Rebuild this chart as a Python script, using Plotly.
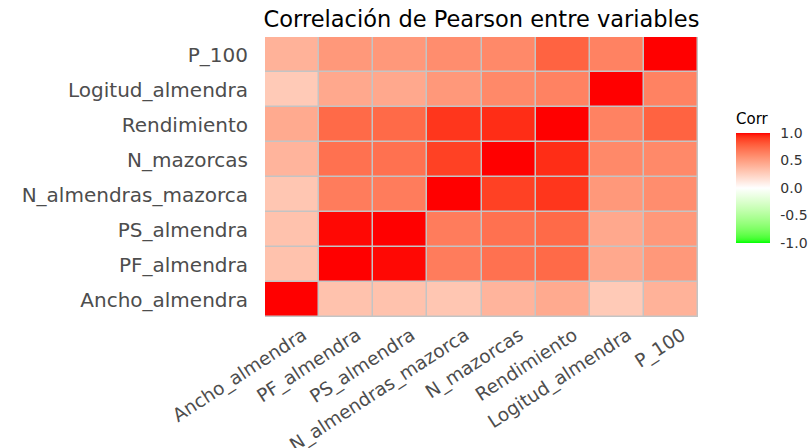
import plotly.graph_objects as go

variables = ["Ancho_almendra", "PF_almendra", "PS_almendra", "N_almendras_mazorca",
             "N_mazorcas", "Rendimiento", "Logitud_almendra", "P_100"]

# correlation rows (same order as variables)
r_ancho = [1.00, 0.32, 0.32, 0.30, 0.39, 0.44, 0.28, 0.40]
r_pf    = [0.32, 1.00, 0.99, 0.66, 0.71, 0.74, 0.45, 0.53]
r_ps    = [0.32, 0.99, 1.00, 0.66, 0.71, 0.74, 0.45, 0.53]
r_nam   = [0.30, 0.66, 0.66, 1.00, 0.89, 0.92, 0.53, 0.58]
r_nm    = [0.39, 0.71, 0.71, 0.89, 1.00, 0.94, 0.60, 0.60]
r_rend  = [0.44, 0.74, 0.74, 0.92, 0.94, 1.00, 0.63, 0.77]
r_log   = [0.28, 0.45, 0.45, 0.53, 0.60, 0.63, 1.00, 0.63]
r_p100  = [0.40, 0.53, 0.53, 0.58, 0.60, 0.77, 0.63, 1.00]

corr = [r_ancho, r_pf, r_ps, r_nam, r_nm, r_rend, r_log, r_p100]

colorbar_ticks = [-1.0, -0.5, 0.0, 0.5, 1.0]
colorbar_ticktext = ["-1.0", "-0.5", "0.0", "0.5", "1.0"]


# --- colour scale: Lab interpolation (like ggplot2 gradient2) ---
def srgb_to_lin(c):
    c = c / 255.0
    return c / 12.92 if c <= 0.04045 else ((c + 0.055) / 1.055) ** 2.4

def lin_to_srgb(c):
    c = min(max(c, 0.0), 1.0)
    v = 12.92 * c if c <= 0.0031308 else 1.055 * c ** (1 / 2.4) - 0.055
    return int(round(min(max(v, 0), 1) * 255))

Xn, Yn, Zn = 0.95047, 1.0, 1.08883

def rgb_to_lab(rgb):
    r, g, b = [srgb_to_lin(v) for v in rgb]
    X = 0.4124 * r + 0.3576 * g + 0.1805 * b
    Y = 0.2126 * r + 0.7152 * g + 0.0722 * b
    Z = 0.0193 * r + 0.1192 * g + 0.9505 * b
    def f(t):
        return t ** (1 / 3) if t > 0.008856 else 7.787 * t + 16 / 116
    fx, fy, fz = f(X / Xn), f(Y / Yn), f(Z / Zn)
    return (116 * fy - 16, 500 * (fx - fy), 200 * (fy - fz))

def lab_to_rgb(lab):
    L, a, b = lab
    fy = (L + 16) / 116
    fx = fy + a / 500
    fz = fy - b / 200
    def finv(t):
        return t ** 3 if t ** 3 > 0.008856 else (t - 16 / 116) / 7.787
    X, Y, Z = Xn * finv(fx), Yn * finv(fy), Zn * finv(fz)
    r = 3.2406 * X - 1.5372 * Y - 0.4986 * Z
    g = -0.9689 * X + 1.8758 * Y + 0.0415 * Z
    bb = 0.0557 * X - 0.2040 * Y + 1.0570 * Z
    return (lin_to_srgb(r), lin_to_srgb(g), lin_to_srgb(bb))

low, mid, high = (0, 255, 0), (255, 255, 255), (255, 0, 0)
lab_low, lab_mid, lab_high = rgb_to_lab(low), rgb_to_lab(mid), rgb_to_lab(high)
scale = []
n = 20
for i in range(n + 1):
    t = i / n
    lab = tuple(lab_low[k] + (lab_mid[k] - lab_low[k]) * t for k in range(3))
    scale.append([0.5 * t, "rgb(%d,%d,%d)" % lab_to_rgb(lab)])
for i in range(1, n + 1):
    t = i / n
    lab = tuple(lab_mid[k] + (lab_high[k] - lab_mid[k]) * t for k in range(3))
    scale.append([0.5 + 0.5 * t, "rgb(%d,%d,%d)" % lab_to_rgb(lab)])

FONT = "DejaVu Sans"
W, H = 809, 448
L_, R_, T_, B_ = 265, 111, 37, 131
plot_h = H - T_ - B_

cb_top_px = 110          # top of colourbar block (title included)
cb_len_px = 133          # title + bar
cb_y = (H - B_ - cb_top_px) / plot_h
cb_x = (736 - L_) / (W - L_ - R_)

fig = go.Figure(go.Heatmap(
    z=corr, x=variables, y=variables,
    zmin=-1, zmax=1, colorscale=scale,
    xgap=1.5, ygap=1.5,
    colorbar=dict(
        title=dict(text="Corr", side="top", font=dict(size=15, color="black", family=FONT)),
        tickvals=colorbar_ticks, ticktext=colorbar_ticktext,
        ticks="outside", tickcolor="white", ticklen=8,
        tickfont=dict(size=14, color="#333333", family=FONT),
        thickness=34, thicknessmode="pixels",
        len=cb_len_px, lenmode="pixels",
        x=cb_x, xanchor="left", xpad=0,
        y=cb_y, yanchor="top", ypad=0,
        outlinewidth=0,
    ),
    hovertemplate="%{x}<br>%{y}<br>%{z}<extra></extra>",
))

fig.update_layout(
    width=W, height=H,
    margin=dict(l=L_, r=R_, t=T_, b=B_, autoexpand=False),
    paper_bgcolor="white",
    plot_bgcolor="#C4C4C4",
    font=dict(family=FONT, color="#4D4D4D"),
    title=dict(text="Correlación de Pearson entre variables",
               x=0.5, xref="paper", xanchor="center",
               y=1 - 19 / H, yref="container", yanchor="middle",
               font=dict(size=22.5, color="black", family=FONT)),
)
fig.update_xaxes(
    range=[-0.5, 7.5], showgrid=False, zeroline=False, ticks="",
    tickangle=-33, tickfont=dict(size=18.5, color="#4D4D4D"),
    ticklabelstandoff=3, ticklabelshift=11, showline=False,
)
fig.update_yaxes(
    range=[-0.5, 7.5], showgrid=False, zeroline=False, ticks="",
    tickfont=dict(size=20, color="#4D4D4D"),
    ticklabelstandoff=16, showline=False,
)

fig.write_html("out.html", config={"displayModeBar": False},
               post_script="document.body.style.margin='0px';document.body.style.overflow='hidden';")
